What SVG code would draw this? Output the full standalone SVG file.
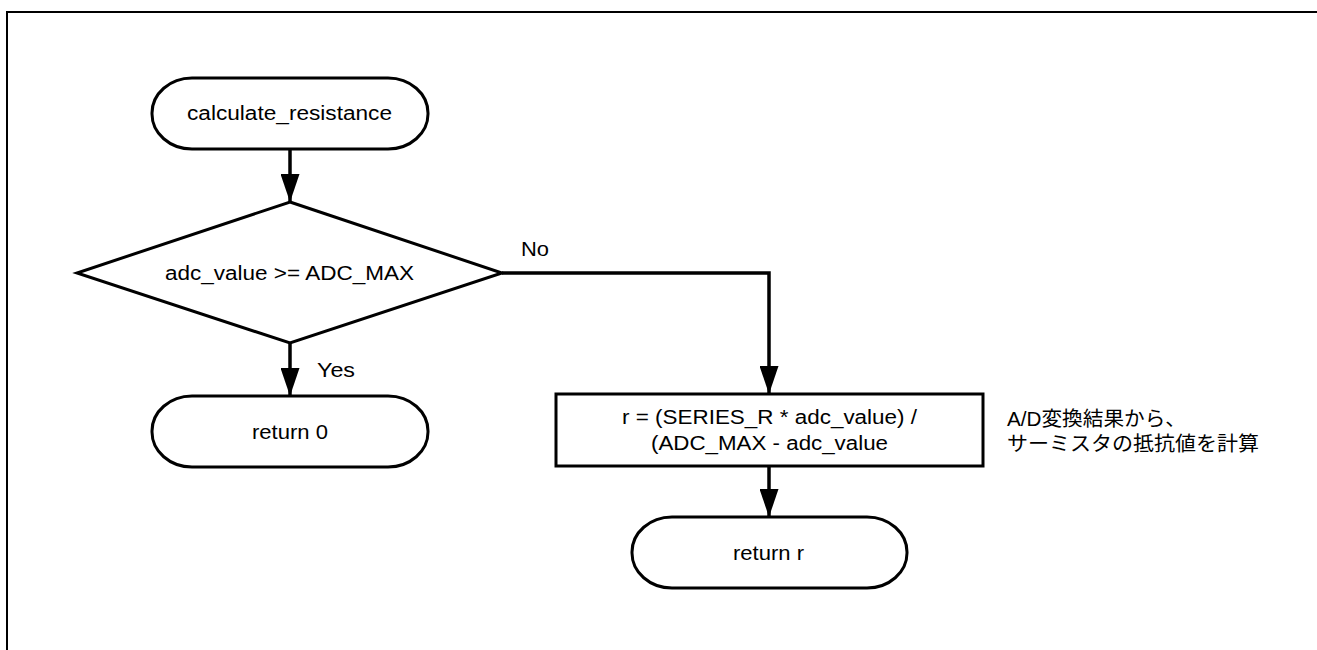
<svg xmlns="http://www.w3.org/2000/svg" width="1317" height="650" viewBox="0 0 1317 650">
  <style>
    .shape { fill: #fff; stroke: #000; stroke-width: 3; }
    .wire { fill: none; stroke: #000; stroke-width: 3.5; }
    .lbl { font-family: "Liberation Sans", Arial, sans-serif; font-size: 19.5px; fill: #000; }
    .note { font-family: "Liberation Sans", "Noto Sans CJK JP", sans-serif; font-size: 20px; fill: #000; }
  </style>
  <defs>
    <marker id="arrow" viewBox="0 0 28 19" refX="28" refY="9.5" markerWidth="28" markerHeight="19" markerUnits="userSpaceOnUse" orient="auto">
      <path d="M0,0 L28,9.5 L0,19 z" fill="#000"/>
    </marker>
  </defs>

  <rect width="1317" height="650" fill="#fff"/>
  <!-- page frame, open to the right and bottom -->
  <path d="M7,650 V12 H1317" fill="none" stroke="#000" stroke-width="2"/>

  <g id="connectors">
    <path class="wire" d="M290,149 V202" marker-end="url(#arrow)"/>
    <path class="wire" d="M290,343 V396" marker-end="url(#arrow)"/>
    <path class="wire" d="M502,273 H769 V394" marker-end="url(#arrow)"/>
    <path class="wire" d="M769,466 V517" marker-end="url(#arrow)"/>
    <text class="lbl" x="317" y="377" textLength="38" lengthAdjust="spacingAndGlyphs">Yes</text>
    <text class="lbl" x="521" y="256" textLength="28" lengthAdjust="spacingAndGlyphs">No</text>
  </g>

  <g id="start">
    <rect class="shape" x="152" y="78" width="276" height="71" rx="40" ry="35"/>
    <text class="lbl" x="187" y="120" textLength="205" lengthAdjust="spacingAndGlyphs">calculate_resistance</text>
  </g>

  <g id="check-max">
    <polygon class="shape" points="290,202 502,273 290,343 77,273"/>
    <text class="lbl" x="165" y="280" textLength="249" lengthAdjust="spacingAndGlyphs">adc_value &gt;= ADC_MAX</text>
  </g>

  <g id="return-zero">
    <rect class="shape" x="152" y="396" width="276" height="71" rx="40" ry="35"/>
    <text class="lbl" x="252" y="439" textLength="76" lengthAdjust="spacingAndGlyphs">return 0</text>
  </g>

  <g id="compute-r">
    <rect class="shape" x="556" y="394" width="427" height="72" stroke-width="3.5"/>
    <text class="lbl" x="622" y="424" textLength="295" lengthAdjust="spacingAndGlyphs">r = (SERIES_R * adc_value) /</text>
    <text class="lbl" x="651" y="450" textLength="237" lengthAdjust="spacingAndGlyphs">(ADC_MAX - adc_value</text>
  </g>

  <g id="compute-note">
    <text class="note" x="1007" y="426" textLength="179" lengthAdjust="spacingAndGlyphs">A/D変換結果から、</text>
    <text class="note" x="1007" y="451" textLength="252" lengthAdjust="spacingAndGlyphs">サーミスタの抵抗値を計算</text>
  </g>

  <g id="return-r">
    <rect class="shape" x="632" y="517" width="275" height="71" rx="40" ry="35"/>
    <text class="lbl" x="733" y="560" textLength="71" lengthAdjust="spacingAndGlyphs">return r</text>
  </g>
</svg>
